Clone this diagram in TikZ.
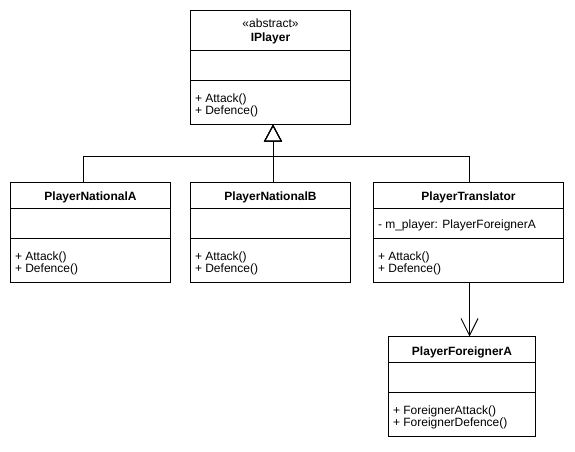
\documentclass[tikz,border=0pt]{standalone}
\usepackage{fontspec}
\setmainfont{Liberation Sans}
\usetikzlibrary{arrows.meta,calc}
\begin{document}
\begin{tikzpicture}[x=1pt,y=-1pt,line width=1pt,
  umlbox/.style={draw=black,fill=white,rectangle,inner sep=0pt,outer sep=0pt,anchor=north west},
  clstitle/.style={inner sep=0pt,anchor=base,font=\fontsize{12}{14}\selectfont\bfseries},
  stereo/.style={inner sep=0pt,anchor=base,font=\fontsize{12}{14}\selectfont},
  member/.style={inner sep=0pt,anchor=base west,font=\fontsize{12}{14}\selectfont},
  gen/.style={draw=black,line width=1pt,-{Triangle[open,length=17pt,width=18pt]}},
  assoc/.style={draw=black,line width=1pt,-{Straight Barb[length=17pt,width=17pt]}}]
\useasboundingbox (0,0) rectangle (575,451);
\fill[white] (0,0) rectangle (575,451);

% IPlayer
\node[umlbox,minimum width=160pt,minimum height=114pt] (ip) at (190.5,10.5) {};
\draw ($(ip.north west)+(0,40)$) -- ($(ip.north east)+(0,40)$);
\draw ($(ip.north west)+(0,70)$) -- ($(ip.north east)+(0,70)$);
\node[stereo] (ips) at ($(ip.north)+(0,17)$) {«abstract»};
\node[clstitle] (ipn) at ($(ip.north)+(0,31)$) {IPlayer};
\node[member] (ipm1) at ($(ip.north west)+(4,92)$) {+ Attack()};
\node[member] (ipm2) at ($(ip.north west)+(4,104.3)$) {+ Defence()};

% PlayerNationalA
\node[umlbox,minimum width=160pt,minimum height=100pt] (pna) at (10.5,182.5) {};
\draw ($(pna.north west)+(0,26)$) -- ($(pna.north east)+(0,26)$);
\draw ($(pna.north west)+(0,56)$) -- ($(pna.north east)+(0,56)$);
\node[clstitle] (pnan) at ($(pna.north)+(0,18.3)$) {PlayerNationalA};
\node[member] (pnam1) at ($(pna.north west)+(4,78)$) {+ Attack()};
\node[member] (pnam2) at ($(pna.north west)+(4,90.3)$) {+ Defence()};

% PlayerNationalB
\node[umlbox,minimum width=160pt,minimum height=100pt] (pnb) at (190.5,182.5) {};
\draw ($(pnb.north west)+(0,26)$) -- ($(pnb.north east)+(0,26)$);
\draw ($(pnb.north west)+(0,56)$) -- ($(pnb.north east)+(0,56)$);
\node[clstitle] (pnbn) at ($(pnb.north)+(0,18.3)$) {PlayerNationalB};
\node[member] (pnbm1) at ($(pnb.north west)+(4,78)$) {+ Attack()};
\node[member] (pnbm2) at ($(pnb.north west)+(4,90.3)$) {+ Defence()};

% PlayerTranslator
\node[umlbox,minimum width=190pt,minimum height=100pt] (pt) at (373.5,182.5) {};
\draw ($(pt.north west)+(0,26)$) -- ($(pt.north east)+(0,26)$);
\draw ($(pt.north west)+(0,56)$) -- ($(pt.north east)+(0,56)$);
\node[clstitle] (ptn) at ($(pt.north)+(0,18.3)$) {PlayerTranslator};
\node[member] (pta) at ($(pt.north west)+(4,45.5)$) {- m\_player: PlayerForeignerA};
\node[member] (ptm1) at ($(pt.north west)+(4,78)$) {+ Attack()};
\node[member] (ptm2) at ($(pt.north west)+(4,90.3)$) {+ Defence()};

% PlayerForeignerA
\node[umlbox,minimum width=147pt,minimum height=100pt] (pfa) at (388.5,336.5) {};
\draw ($(pfa.north west)+(0,26)$) -- ($(pfa.north east)+(0,26)$);
\draw ($(pfa.north west)+(0,56)$) -- ($(pfa.north east)+(0,56)$);
\node[clstitle] (pfan) at ($(pfa.north)+(0,18.8)$) {PlayerForeignerA};
\node[member] (pfam1) at ($(pfa.north west)+(4,78)$) {+ ForeignerAttack()};
\node[member] (pfam2) at ($(pfa.north west)+(4,90.3)$) {+ ForeignerDefence()};

% connectors
\coordinate (j) at (273,156.5);
\draw[gen] ([xshift=-7.5pt]pna.north) |- (j) -- ([xshift=2.5pt]ip.south);
\draw[gen] ([xshift=2.5pt]pnb.north) -- ([xshift=2.5pt]ip.south);
\draw[gen] ([xshift=1pt]pt.north) |- (j) -- ([xshift=2.5pt]ip.south);
\draw[assoc] ([xshift=1pt]pt.south) -- ([xshift=7.5pt]pfa.north);
\end{tikzpicture}
\end{document}
